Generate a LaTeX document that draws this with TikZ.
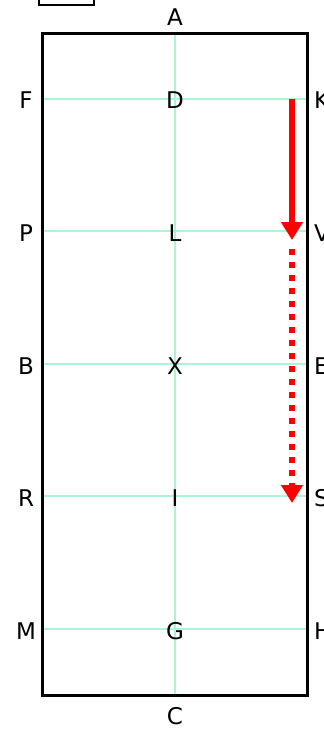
\documentclass[tikz,border=0pt]{standalone}
\usepackage{fontspec}
\setmainfont{DejaVu Sans}
\usetikzlibrary{arrows.meta}
\definecolor{gridc}{RGB}{170,245,212}
\begin{document}
\begin{tikzpicture}[x=1pt,y=-1pt,
  lbl/.style={font=\fontsize{23}{25}\selectfont, inner sep=0pt},
  gridline/.style={draw=gridc, line width=1.1pt},
  frame/.style={draw=black, line width=3pt},
  smallbox/.style={draw=black, line width=1.6pt},
  redarrow/.style={draw=red, line width=6pt, -{Triangle[length=18pt,width=21pt]}},
  reddash/.style={redarrow, dash pattern=on 6pt off 7pt}]
\useasboundingbox (0,0) rectangle (324,729);
% small box at top left (cut off)
\draw[smallbox] (39,-10) rectangle (94,5);
% grid coordinates
\coordinate (tl) at (42,33);
\coordinate (br) at (307,695);
\coordinate (vt) at (175,33);
\coordinate (vb) at (175,695);
\foreach \n/\y in {1/99,2/231,3/364,4/496,5/629}{
  \coordinate (gl\n) at (42,\y);
  \coordinate (gr\n) at (307,\y);
}
\foreach \n in {1,...,5}{\draw[gridline] (gl\n) -- (gr\n);}
\draw[gridline] (vt) -- (vb);
\draw[frame] (tl) rectangle (br);
% labels
\node[lbl] (A) at (175,17) {A};
\node[lbl] (C) at (175,716) {C};
\node[lbl] (F) at (26,100) {F};
\node[lbl] (P) at (26,233) {P};
\node[lbl] (B) at (26,366) {B};
\node[lbl] (R) at (26,498) {R};
\node[lbl] (M) at (26,631) {M};
\node[lbl] (D) at (175,100) {D};
\node[lbl] (L) at (175,233) {L};
\node[lbl] (X) at (175,366) {X};
\node[lbl] (I) at (175,498) {I};
\node[lbl] (G) at (175,631) {G};
\node[lbl,anchor=west] (K) at (314,100) {K};
\node[lbl,anchor=west] (V) at (314,233) {V};
\node[lbl,anchor=west] (E) at (314,366) {E};
\node[lbl,anchor=west] (S) at (314,498) {S};
\node[lbl,anchor=west] (H) at (314,631) {H};
% red arrows
\coordinate (r1) at (292,99);
\coordinate (r2) at (292,240);
\coordinate (r3) at (292,249);
\coordinate (r4) at (292,503);
\draw[redarrow] (r1) -- (r2);
\draw[reddash] (r3) -- (r4);
\end{tikzpicture}
\end{document}
